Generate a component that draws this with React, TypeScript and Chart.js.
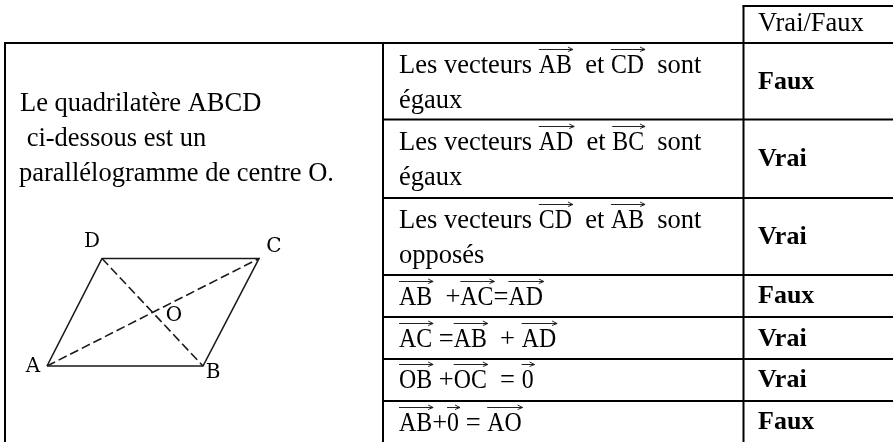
import React, { useEffect, useRef } from "react";
import { Chart, registerables } from "chart.js";

Chart.register(...registerables);

const SERIF = '"Liberation Serif", "Times New Roman", serif';
const LABEL = '"DejaVu Serif", serif';

// Table rules, in page units
const rowEdges = [43, 119.5, 198, 275, 317, 359, 401];
const colEdges = [5, 383, 743.5];
const tableTop = 6;
const tableBottom = 442;
const tableRight = 893;

// Parallelogram vertices and their centre
const vertexNames = ["A", "B", "C", "D"];
const vertexX = [47, 203, 259, 102];
const vertexY = [366, 366, 258.5, 258.5];
const vertexLabelX = [33, 213, 274, 92];
const vertexLabelY = [367, 373, 247, 242];
const centreLabel = { text: "O", x: 174, y: 316 };

// Left cell text
const introLines = ["Le quadrilatère ABCD", " ci-dessous est un", "parallélogramme de centre O."];
const introX = [20, 20, 19];
const introY = [111, 146, 181];

// Right column
const answers = ["Vrai/Faux", "Faux", "Vrai", "Vrai", "Faux", "Vrai", "Vrai", "Faux"];
const answerY = [31, 89, 166, 244, 303, 346, 387, 429];

// Statement pieces: plain strings, "^" marks a vector
const statements: string[][] = [
  ["Les vecteurs ", "^AB", "  et ", "^CD", "  sont"],
  ["égaux"],
  ["Les vecteurs ", "^AD", "  et ", "^BC", "  sont"],
  ["égaux"],
  ["Les vecteurs ", "^CD", "  et ", "^AB", "  sont"],
  ["opposés"],
  ["^AB", "  +", "^AC", "=", "^AD"],
  ["^AC", " =", "^AB", "  + ", "^AD"],
  ["^OB", " +", "^OC", "  = ", "^0"],
  ["^AB", "+", "^0", " = ", "^AO"],
];
const statementY = [73, 108, 150, 185, 228, 263, 305, 347, 388, 431];

const INK = "#000000";
const TEXT_SIZE = 26.5;
const VEC_SQUEEZE = 0.9;

function line(x: number[], y: number[], width: number, color: string, dash: number[] = []) {
  return {
    type: "scatter" as const,
    data: x.map((v, i) => ({ x: v, y: y[i] })),
    showLine: true,
    borderColor: color,
    borderWidth: width,
    borderDash: dash,
    pointRadius: 0,
    tension: 0,
    fill: false,
  };
}

const textPlugin = {
  id: "tableText",
  afterDatasetsDraw(chart: any) {
    const { ctx, scales } = chart;
    const px = (v: number) => scales.x.getPixelForValue(v);
    const py = (v: number) => scales.y.getPixelForValue(v);
    ctx.save();
    ctx.fillStyle = INK;
    ctx.textBaseline = "alphabetic";
    ctx.textAlign = "left";

    ctx.font = `${TEXT_SIZE}px ${SERIF}`;
    introLines.forEach((t, i) => {
      ctx.fillText(t, px(introX[i]), py(introY[i]));
    });

    answers.forEach((t, i) => {
      ctx.font = i === 0 ? `${TEXT_SIZE}px ${SERIF}` : `bold 26px ${SERIF}`;
      ctx.fillText(t, px(758), py(answerY[i]));
    });

    statements.forEach((parts, r) => {
      let x = px(399);
      const base = py(statementY[r]);
      parts.forEach((part) => {
        const vec = part.startsWith("^");
        const s = vec ? part.slice(1) : part;
        ctx.font = `${TEXT_SIZE}px ${SERIF}`;
        const natural = ctx.measureText(s).width;
        if (!vec) {
          ctx.fillText(s, x, base);
          x += natural;
          return;
        }
        const w = natural * VEC_SQUEEZE;
        ctx.save();
        ctx.translate(x, base);
        ctx.scale(VEC_SQUEEZE, 1);
        ctx.fillText(s, 0, 0);
        ctx.restore();
        const top = Math.round(base - 24) + 0.5;
        ctx.strokeStyle = "#222222";
        ctx.lineWidth = 1;
        ctx.beginPath();
        ctx.moveTo(x, top);
        ctx.lineTo(x + w + 1, top);
        ctx.moveTo(x + w - 4, top - 2.5);
        ctx.lineTo(x + w + 1, top);
        ctx.moveTo(x + w - 4, top + 2);
        ctx.lineTo(x + w + 1, top);
        ctx.stroke();
        x += w;
      });
    });

    ctx.font = `20px ${LABEL}`;
    ctx.textAlign = "center";
    ctx.textBaseline = "middle";
    vertexNames.forEach((t, i) => {
      ctx.fillText(t, px(vertexLabelX[i]), py(vertexLabelY[i]));
    });
    ctx.fillText(centreLabel.text, px(centreLabel.x), py(centreLabel.y));
    ctx.restore();
  },
};

export default function App() {
  const ref = useRef<HTMLCanvasElement>(null);
  useEffect(() => {
    document.body.style.margin = "0";
    const datasets: any[] = [];
    const v = (x: number, y0: number, y1: number) => datasets.push(line([x, x], [y0, y1], 2, INK));
    const h = (y: number, x0: number, x1: number) => datasets.push(line([x0, x1], [y, y], 2, INK));
    rowEdges.forEach((y, i) => h(y, i === 0 ? colEdges[0] - 1 : colEdges[1], tableRight));
    h(tableTop, colEdges[2] - 1, tableRight);
    v(colEdges[0], rowEdges[0], tableBottom);
    v(colEdges[1], rowEdges[0], tableBottom);
    v(colEdges[2], tableTop, tableBottom);
    datasets.push(line([...vertexX, vertexX[0]], [...vertexY, vertexY[0]], 1.6, "#1a1a1a"));
    datasets.push(line([vertexX[0], vertexX[2]], [vertexY[0], vertexY[2]], 1.6, "#1a1a1a", [9, 4]));
    datasets.push(line([vertexX[3], vertexX[1]], [vertexY[3], vertexY[1]], 1.6, "#1a1a1a", [9, 4]));

    const chart = new Chart(ref.current!, {
      type: "scatter",
      data: { datasets },
      plugins: [textPlugin],
      options: {
        animation: false,
        responsive: false,
        layout: { padding: 0 },
        plugins: { legend: { display: false }, tooltip: { enabled: false } },
        scales: {
          x: { type: "linear", min: 0, max: 893, display: false },
          y: { type: "linear", min: 0, max: 442, reverse: true, display: false },
        },
      },
    });
    return () => chart.destroy();
  }, []);
  return <canvas ref={ref} width={893} height={442} style={{ display: "block", background: "#fff" }} />;
}
